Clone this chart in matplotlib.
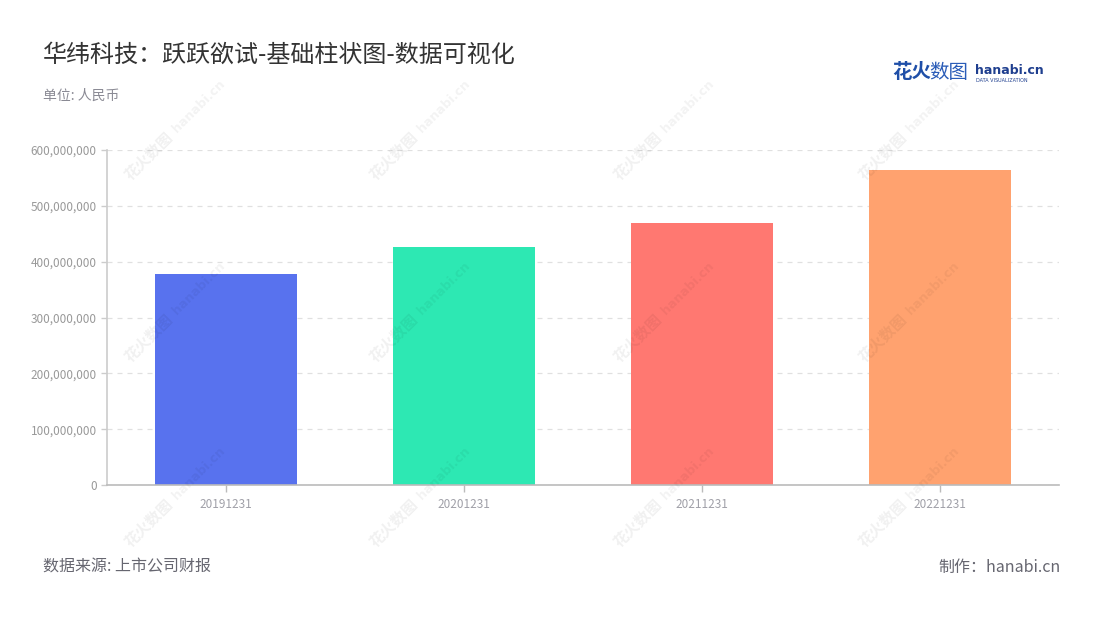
import matplotlib
matplotlib.use("Agg")
from matplotlib import pyplot as plt
from matplotlib.ticker import FuncFormatter
import numpy as np

plt.rcParams['font.family'] = ['Noto Sans CJK SC', 'DejaVu Sans']

# data
years = ['20191231', '20201231', '20211231', '20221231']
revenue = [378e6, 427e6, 470e6, 564e6]
bar_colors = ['#5872EE', '#2DE8B3', '#FF7871', '#FFA26F']

title = '华纬科技：跃跃欲试-基础柱状图-数据可视化'
unit = '单位: 人民币'
source = '数据来源: 上市公司财报'
maker = '制作：hanabi.cn'

fig = plt.figure(figsize=(11, 6.2), dpi=100)
ax = fig.add_axes([107/1100, 1 - 485/620, 952/1100, 335/620])

x = np.arange(len(years))
ax.bar(x, revenue, width=0.6, color=bar_colors, zorder=2)
ax.set_xlim(-0.5, len(years) - 0.5)
ax.set_ylim(0, 600e6)
ax.set_yticks(np.arange(0, 600e6 + 1, 100e6))
ax.yaxis.set_major_formatter(FuncFormatter(lambda v, p: '{:,.0f}'.format(v)))
ax.set_xticks(x)
ax.set_xticklabels(years)

ax.grid(axis='y', color='#e0e0e0', linestyle=(0, (4, 4)), linewidth=0.9, zorder=0)
for side in ['top', 'right']:
    ax.spines[side].set_visible(False)
ax.spines['left'].set_color('#cccccc')
ax.spines['bottom'].set_color('#bbbbbb')
ax.spines['left'].set_linewidth(1.2)
ax.spines['bottom'].set_linewidth(1.2)
ax.tick_params(axis='y', colors='#cccccc', labelcolor='#999999', labelsize=8.5,
               length=4, width=1)
ax.tick_params(axis='x', colors='#bbbbbb', labelcolor='#a0a0a8', labelsize=8.5,
               length=5, width=1, pad=4)

# titles and footer
fig.text(43/1100, 1 - 55/620, title, fontsize=17.3, color='#333333', va='center')
fig.text(43/1100, 1 - 96/620, unit, fontsize=10, color='#8a8a94', va='center')
fig.text(43/1100, 1 - 567/620, source, fontsize=11.5, color='#666670', va='center')
fig.text(1061/1100, 1 - 567/620, maker, fontsize=11.5, color='#666670',
         va='center', ha='right')

# logo
fig.text(892/1100, 1 - 73/620, '花火', fontsize=14, color='#1f4fa8',
         fontweight='bold', va='center')
fig.text(929/1100, 1 - 73/620, '数图', fontsize=14, color='#2a5cb8', va='center')
fig.text(975/1100, 1 - 70/620, 'hanabi.cn', fontsize=9, color='#1f3f8f',
         fontweight='bold', va='center', family='DejaVu Sans')
fig.text(976/1100, 1 - 81/620, 'DATA VISUALIZATION', fontsize=3.5, color='#1f3f8f',
         va='center', family='DejaVu Sans')

# faint diagonal watermarks
for wx in [133, 378, 622, 867]:
    for wy in [183, 365, 550]:
        fig.text(wx/1100, 1 - wy/620, '花火数图', fontsize=11,
                 color='#000000', alpha=0.06, rotation=45, rotation_mode='anchor',
                 ha='left', va='bottom', fontweight='bold', zorder=10)
        fig.text((wx + 46)/1100, 1 - (wy - 48)/620, 'hanabi.cn', fontsize=9,
                 color='#000000', alpha=0.05, rotation=45, rotation_mode='anchor',
                 ha='left', va='bottom', fontweight='bold', zorder=10,
                 family='DejaVu Sans')

fig.savefig('out.png', dpi=100)
